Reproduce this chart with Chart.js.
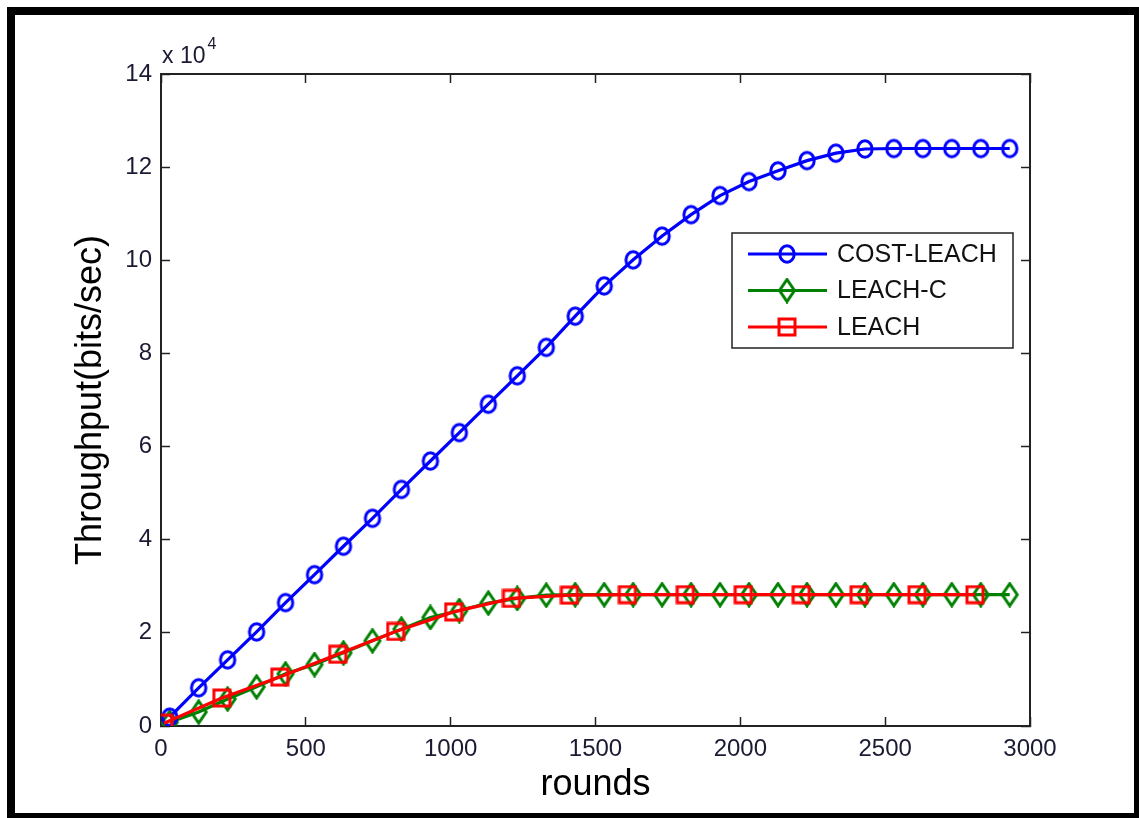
<!DOCTYPE html>
<html>
<head>
<meta charset="utf-8">
<title>Throughput vs rounds</title>
<script src="https://cdn.jsdelivr.net/npm/chart.js@4.4.0/dist/chart.umd.min.js"></script>
<style>
  html, body { margin: 0; padding: 0; background: #fff; overflow: hidden; }
  #wrap { position: relative; width: 1139px; height: 818px; overflow: hidden; }
  #frame { position: absolute; left: 7px; top: 7px; width: 1135px; height: 814px;
           box-sizing: border-box; border: 8px solid #000; pointer-events: none; }
</style>
</head>
<body>
<div id="wrap">
  <canvas id="chart" width="1139" height="818"></canvas>
  <div id="frame"></div>
</div>
<script>
// marker rounds (x values)
var roundsDense = [30, 130, 230, 330, 430, 530, 630, 730, 830, 930,
                   1030, 1130, 1230, 1330, 1430, 1530, 1630, 1730, 1830, 1930,
                   2030, 2130, 2230, 2330, 2430, 2530, 2630, 2730, 2830, 2930];
var roundsSparse = [10, 210, 410, 610, 810, 1010, 1210, 1410,
                    1610, 1810, 2010, 2210, 2410, 2610, 2810];

// throughput (bits/sec)
var costLeach = [1900, 8200, 14200, 20200, 26500, 32500, 38600, 44600, 50800, 56900,
                 63000, 69100, 75200, 81300, 88000, 94500, 100100, 105200, 109800, 113900,
                 116900, 119200, 121400, 123000, 123900, 124000, 124000, 124000, 124000, 124000];
var leachC = [800, 3000, 5800, 8400, 11200, 13200, 15700, 18300, 20800, 23300,
              24800, 26400, 27400, 28100, 28200, 28200, 28200, 28200, 28200, 28200,
              28200, 28200, 28200, 28200, 28200, 28200, 28200, 28200, 28200, 28200];
var leach = [600, 6000, 10500, 15400, 20300, 24500, 27400, 28100,
             28200, 28200, 28200, 28200, 28200, 28200, 28200];

var seriesNames = ['COST-LEACH', 'LEACH-C', 'LEACH'];
var seriesColors = ['#0000ff', '#008000', '#ff0000'];

var FONT = '"Liberation Sans", Arial, Helvetica, sans-serif';

function toPoints(xs, ys) {
  var pts = [];
  for (var i = 0; i < xs.length; i++) pts.push({ x: xs[i], y: ys[i] });
  return pts;
}

// hollow marker images, MATLAB style
function makeMarker(shape, color) {
  var c = document.createElement('canvas');
  var ctx;
  if (shape === 'circle') {
    c.width = 20; c.height = 22;
    ctx = c.getContext('2d');
    ctx.strokeStyle = color; ctx.lineWidth = 3;
    ctx.beginPath();
    ctx.ellipse(10, 11, 7.2, 8.2, 0, 0, Math.PI * 2);
    ctx.stroke();
  } else if (shape === 'diamond') {
    c.width = 20; c.height = 26;
    ctx = c.getContext('2d');
    ctx.strokeStyle = color; ctx.lineWidth = 3;
    ctx.beginPath();
    ctx.moveTo(10, 2); ctx.lineTo(17.5, 13); ctx.lineTo(10, 24); ctx.lineTo(2.5, 13);
    ctx.closePath();
    ctx.stroke();
  } else {
    c.width = 20; c.height = 20;
    ctx = c.getContext('2d');
    ctx.strokeStyle = color; ctx.lineWidth = 3;
    ctx.strokeRect(2, 2, 16, 16);
  }
  return c;
}

var markers = [
  makeMarker('circle', seriesColors[0]),
  makeMarker('diamond', seriesColors[1]),
  makeMarker('square', seriesColors[2])
];

// legend box with line + marker samples
var matlabLegend = {
  id: 'matlabLegend',
  afterDraw: function(chart) {
    var ctx = chart.ctx, area = chart.chartArea;
    var w = 281, h = 115;
    var left = area.right - 17 - w, top = area.top + 159;
    ctx.save();
    ctx.fillStyle = '#fff';
    ctx.fillRect(left, top, w, h);
    ctx.strokeStyle = '#222';
    ctx.lineWidth = 1.5;
    ctx.strokeRect(left, top, w, h);
    ctx.font = '25px ' + FONT;
    ctx.textBaseline = 'middle';
    for (var i = 0; i < seriesNames.length; i++) {
      var y = top + 21 + i * 36.5;
      ctx.strokeStyle = seriesColors[i];
      ctx.lineWidth = 3.2;
      ctx.beginPath();
      ctx.moveTo(left + 16, y);
      ctx.lineTo(left + 95, y);
      ctx.stroke();
      var m = markers[i];
      ctx.drawImage(m, left + 55 - m.width / 2, y - m.height / 2);
      ctx.fillStyle = '#111';
      ctx.fillText(seriesNames[i], left + 105, y + 1);
    }
    ctx.restore();
  }
};

// "x 10^4" exponent label above the y axis
var exponentLabel = {
  id: 'exponentLabel',
  afterDraw: function(chart) {
    var ctx = chart.ctx, area = chart.chartArea;
    ctx.save();
    ctx.fillStyle = '#1a1a33';
    ctx.textBaseline = 'alphabetic';
    ctx.font = '23px ' + FONT;
    ctx.fillText('x 10', area.left + 1, area.top - 11);
    var wBase = ctx.measureText('x 10').width;
    ctx.font = '16px ' + FONT;
    ctx.fillText('4', area.left + wBase + 3, area.top - 25);
    ctx.restore();
  }
};

var tickGrid = {
  drawOnChartArea: false,
  drawTicks: true,
  tickLength: -9,
  tickColor: '#222',
  tickWidth: 1.5
};
var axisBorder = { display: true, color: '#222', width: 2 };

new Chart(document.getElementById('chart'), {
  type: 'line',
  data: {
    datasets: [
      {
        label: seriesNames[2],
        data: toPoints(roundsSparse, leach),
        borderColor: seriesColors[2],
        borderWidth: 3.2,
        pointStyle: markers[2],
        pointRadius: 9,
        order: 0
      },
      {
        label: seriesNames[0],
        data: toPoints(roundsDense, costLeach),
        borderColor: seriesColors[0],
        borderWidth: 3.2,
        pointStyle: markers[0],
        pointRadius: 9,
        order: 1
      },
      {
        label: seriesNames[1],
        data: toPoints(roundsDense, leachC),
        borderColor: seriesColors[1],
        borderWidth: 3.2,
        pointStyle: markers[1],
        pointRadius: 9,
        order: 2
      }
    ]
  },
  options: {
    responsive: false,
    animation: false,
    devicePixelRatio: 1,
    elements: { line: { tension: 0, fill: false } },
    layout: { padding: { left: 0, top: 74, right: 109, bottom: 0 } },
    plugins: {
      legend: { display: false },
      tooltip: { enabled: false }
    },
    scales: {
      x: {
        type: 'linear',
        position: 'bottom',
        min: 0, max: 3000,
        grid: tickGrid,
        border: axisBorder,
        ticks: {
          stepSize: 500,
          padding: 18,
          color: '#1a1a33',
          font: { family: FONT, size: 24 },
          maxRotation: 0,
          callback: function(v) { return String(v); }
        },
        title: {
          display: true,
          text: 'rounds',
          color: '#000',
          font: { family: FONT, size: 36 },
          padding: { top: 0, bottom: 11 }
        },
        afterFit: function(s) { s.height = 92; }
      },
      x2: {
        type: 'linear',
        position: 'top',
        min: 0, max: 3000,
        grid: tickGrid,
        border: axisBorder,
        ticks: { stepSize: 500, display: false },
        afterFit: function(s) { s.height = 0; }
      },
      y: {
        type: 'linear',
        position: 'left',
        min: 0, max: 140000,
        grid: tickGrid,
        border: axisBorder,
        ticks: {
          stepSize: 20000,
          padding: 18,
          color: '#1a1a33',
          font: { family: FONT, size: 24 },
          callback: function(v) { return String(v / 10000); }
        },
        title: {
          display: true,
          text: 'Throughput(bits/sec)',
          color: '#000',
          font: { family: FONT, size: 36 },
          padding: { top: 69, bottom: 0 }
        },
        afterFit: function(s) { s.width = 161; }
      },
      y2: {
        type: 'linear',
        position: 'right',
        min: 0, max: 140000,
        grid: tickGrid,
        border: axisBorder,
        ticks: { stepSize: 20000, display: false },
        afterFit: function(s) { s.width = 0; }
      }
    }
  },
  plugins: [matlabLegend, exponentLabel]
});
</script>
</body>
</html>
